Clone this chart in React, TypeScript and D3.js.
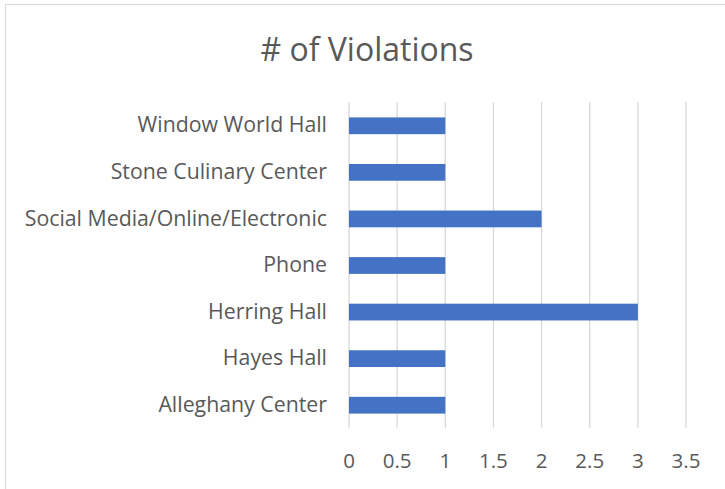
import * as d3 from "d3";

const categories = [
  "Window World Hall",
  "Stone Culinary Center",
  "Social Media/Online/Electronic",
  "Phone",
  "Herring Hall",
  "Hayes Hall",
  "Alleghany Center",
];
const violations = [1, 1, 2, 1, 3, 1, 1];
const xTicks = [0, 0.5, 1, 1.5, 2, 2.5, 3, 3.5];

export default function App() {
  const width = 725;
  const height = 489;
  const font = "'Open Sans', sans-serif";

  const x = d3.scaleLinear().domain([0, 3.5]).range([349, 686]);
  const y = d3.scaleBand().domain(categories).range([102.5, 428.5]).paddingInner(0.64).paddingOuter(0.32);

  return (
    <svg
      width={width}
      height={height}
      style={{ position: "absolute", left: 0, top: 0 }}
      fontFamily={font}
    >
      <rect x={0} y={0} width={width} height={height} fill="white" />
      <rect x={5.5} y={4.5} width={width + 10} height={height + 10} fill="none" stroke="#d9d9d9" />
      <text x={367} y={61} textAnchor="middle" fontSize={32} fill="#595959">
        # of Violations
      </text>
      {xTicks.map((t) => (
        <g key={t}>
          <line x1={x(t)} x2={x(t)} y1={102} y2={428} stroke="#d9d9d9" strokeWidth={1.3} />
          <text x={x(t)} y={463} textAnchor="middle" dominantBaseline="middle" fontSize={20.5} fill="#595959">
            {t}
          </text>
        </g>
      ))}
      {categories.map((c, i) => (
        <g key={c}>
          <rect
            x={x(0)}
            y={y(c)}
            width={x(violations[i]) - x(0)}
            height={y.bandwidth()}
            fill="#4472c4"
          />
          <text
            x={327}
            y={(y(c) as number) + y.bandwidth() / 2 + 1}
            textAnchor="end"
            dominantBaseline="middle"
            fontSize={21.3}
            fill="#595959"
          >
            {c}
          </text>
        </g>
      ))}
    </svg>
  );
}
